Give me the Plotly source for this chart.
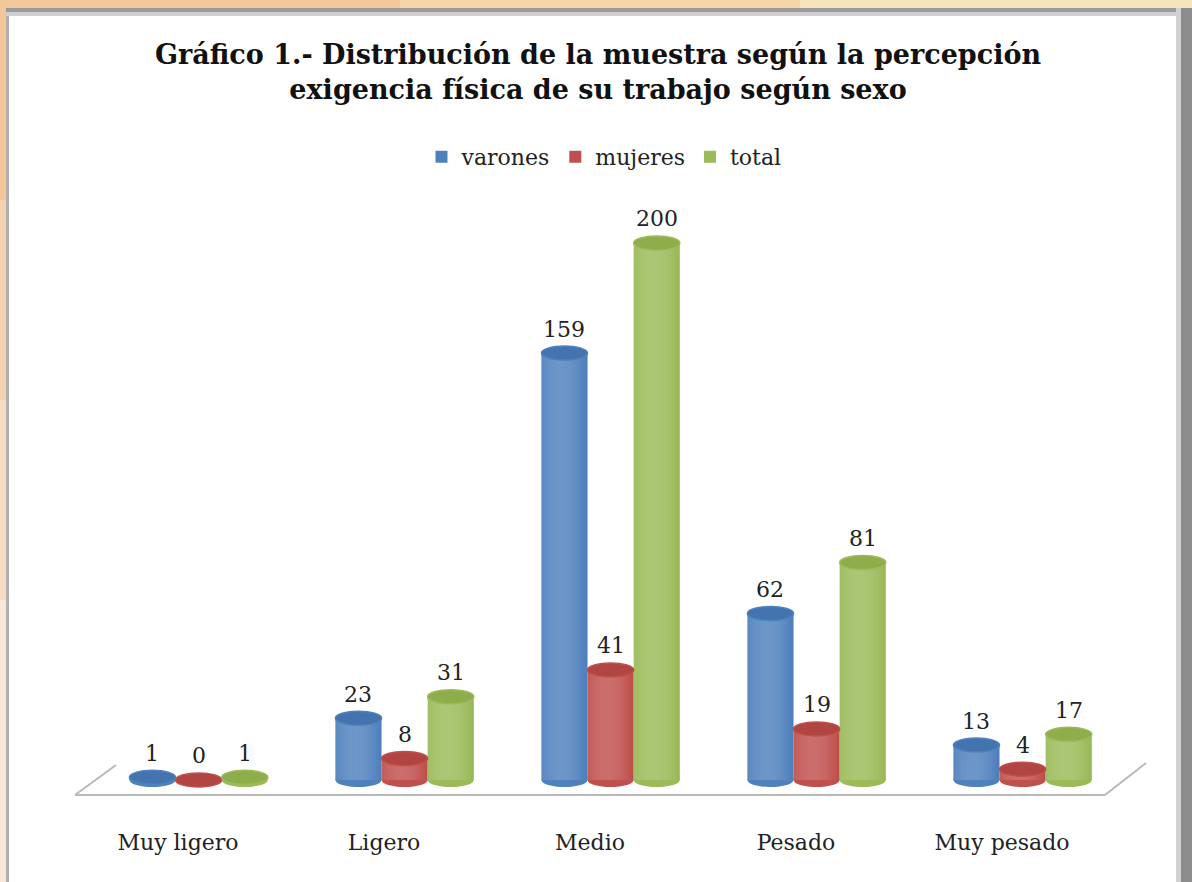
import math
import plotly.graph_objects as go

categories = ["Muy ligero", "Ligero", "Medio", "Pesado", "Muy pesado"]
series_names = ["varones", "mujeres", "total"]
varones = [1, 23, 159, 62, 13]
mujeres = [0, 8, 41, 19, 4]
total = [1, 31, 200, 81, 17]

COLORS = {
    "varones": ("#4f81bd", "#4474b0"),
    "mujeres": ("#c0504d", "#b04541"),
    "total": ("#9bbb59", "#8eae4c"),
}

W, H = 1192, 882
L, R, T, B = 75, 87, 200, 87
PW, PH = W - L - R, H - T - B
Y_RANGE = [-5.6, 216.0]
BAR_W = 0.224
STEP = 0.224
SHIFT = 0.1
RY = 2.6  # cap half-height in data units
N_STRIPS = 18


def shade(t):
    # light peak a bit left of centre, darker towards both edges
    s = math.cos((t - 0.42) * math.pi / 1.25)
    a = 0.22 * s - 0.05
    if a >= 0:
        return f"rgba(255,255,255,{a:.3f})"
    return f"rgba(0,0,0,{-a * 1.1:.3f})"


def px(x):
    return (x - L) / PW


def py(y):
    return (H - B - y) / PH


fig = go.Figure()
shapes = []
annotations = []

for j, (name, values) in enumerate(zip(series_names, [varones, mujeres, total])):
    base, cap = COLORS[name]
    xs = [i + SHIFT + (j - 1) * STEP for i in range(len(categories))]
    fig.add_trace(go.Bar(
        x=xs, y=values, width=BAR_W, name=name,
        marker=dict(color=base, line=dict(width=0)),
        hovertemplate="%{y}<extra>" + name + "</extra>",
    ))
    sw = BAR_W / N_STRIPS
    for k in range(N_STRIPS):
        off = -BAR_W / 2 + sw * (k + 0.5)
        fig.add_trace(go.Bar(
            x=[x + off for x in xs], y=values, width=sw * 1.05,
            marker=dict(color=shade((k + 0.5) / N_STRIPS), line=dict(width=0)),
            showlegend=False, hoverinfo="skip",
        ))
    for x, v in zip(xs, values):
        # rounded base
        shapes.append(dict(type="circle", xref="x", yref="y", layer="below",
                           x0=x - BAR_W / 2, x1=x + BAR_W / 2, y0=-RY, y1=RY,
                           fillcolor=base, line=dict(width=0)))
        # top cap
        shapes.append(dict(type="circle", xref="x", yref="y", layer="above",
                           x0=x - BAR_W / 2, x1=x + BAR_W / 2, y0=v - RY, y1=v + RY,
                           fillcolor=cap, line=dict(color=base, width=1.5)))
        annotations.append(dict(x=x, y=v, xref="x", yref="y", text=str(v),
                                showarrow=False, yshift=24,
                                font=dict(family="DejaVu Serif", size=22, color="#222222")))

fig.update_layout(barmode="overlay")

# floor of the 3D chart
floor = [((75, 795), (1105, 795)), ((75, 795), (116, 765)), ((1105, 795), (1146, 763))]
for (x0, y0), (x1, y1) in floor:
    shapes.append(dict(type="line", xref="paper", yref="paper", layer="below",
                       x0=px(x0), y0=py(y0), x1=px(x1), y1=py(y1),
                       line=dict(color="#b8b8b8", width=2)))

# page frame: orange border with grey shadow
frame = [
    (0, 0, 400, 8, "#f2c99c"),
    (400, 0, 800, 8, "#f4d6aa"),
    (800, 0, 1192, 8, "#f7e4bc"),
    (0, 0, 6, 200, "#f2c79a"),
    (0, 200, 6, 400, "#f4d2ae"),
    (0, 400, 6, 600, "#f6ddc4"),
    (0, 600, 6, 882, "#f9e9dc"),
    (6, 8, 9, 882, "#b0b0b0"),
    (6, 8, 1180, 12, "#9a9a9a"),
    (6, 12, 1180, 16, "#cfcfcf"),
    (1176, 8, 1181, 882, "#d0d0d0"),
    (1181, 8, 1192, 882, "#8c8c8c"),
]
for x0, y0, x1, y1, col in frame:
    shapes.append(dict(type="rect", xref="paper", yref="paper", layer="below",
                       x0=px(x0), y0=py(y0), x1=px(x1), y1=py(y1),
                       fillcolor=col, line=dict(width=0)))

fig.update_layout(
    width=W, height=H,
    margin=dict(l=L, r=R, t=T, b=B),
    paper_bgcolor="white",
    plot_bgcolor="rgba(0,0,0,0)",
    title=dict(
        text="Gráfico 1.- Distribución de la muestra según la percepción<br>"
             "exigencia física de su trabajo según sexo",
        x=598 / W, xref="container", xanchor="center",
        y=1 - 64 / H, yref="container", yanchor="top",
        font=dict(family="DejaVu Serif", size=27, color="#111111", weight="bold"),
    ),
    legend=dict(
        orientation="h", x=604 / W, xanchor="center", xref="container",
        y=1 - 157 / H, yanchor="middle", yref="container",
        font=dict(family="DejaVu Serif", size=22, color="#222222"),
        itemwidth=30, traceorder="normal",
    ),
    xaxis=dict(
        range=[-0.5, 4.5], tickvals=list(range(len(categories))), ticktext=categories,
        showgrid=False, zeroline=False, showline=False,
        ticks="outside", ticklen=28, tickcolor="rgba(0,0,0,0)",
        tickfont=dict(family="DejaVu Serif", size=22, color="#222222"),
    ),
    yaxis=dict(range=Y_RANGE, visible=False),
    shapes=shapes,
    annotations=annotations,
    showlegend=True,
)

fig.write_html("out.html", config={"displayModeBar": False},
               post_script="document.body.style.margin='0';document.body.style.overflow='hidden';")
